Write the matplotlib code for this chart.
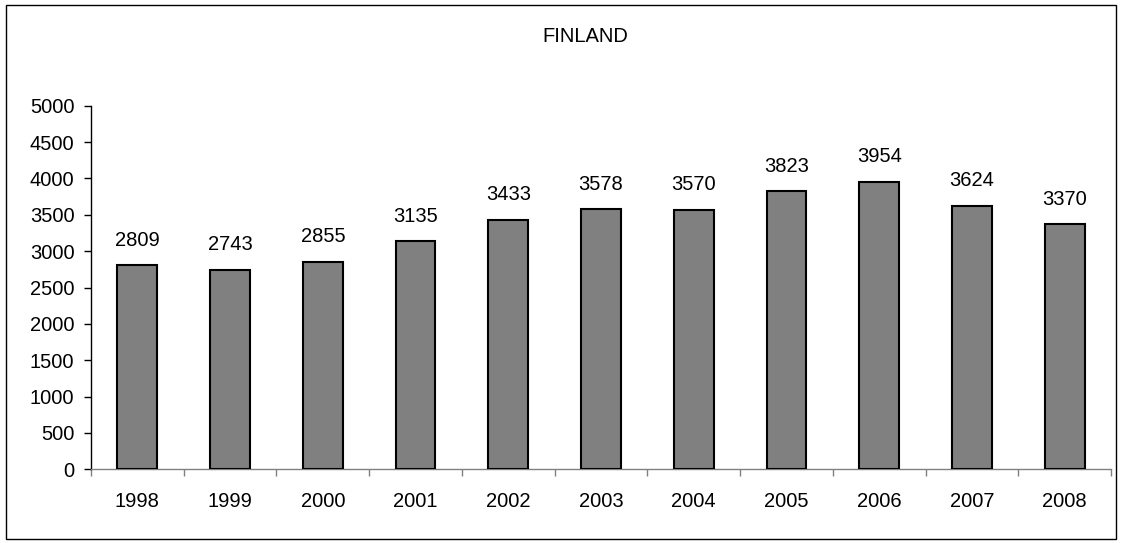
import matplotlib
matplotlib.use("Agg")
import matplotlib.pyplot as plt
from matplotlib.patches import Rectangle
import numpy as np

years = ["1998", "1999", "2000", "2001", "2002", "2003", "2004", "2005", "2006", "2007", "2008"]
values = [2809, 2743, 2855, 3135, 3433, 3578, 3570, 3823, 3954, 3624, 3370]
title = "FINLAND"

plt.rcParams['font.family'] = ['Liberation Sans', 'DejaVu Sans']
FS = 14.5

fig = plt.figure(figsize=(11.23, 5.43), dpi=100)
ax = fig.add_axes([91/1123, (543-469.3)/543, (1111-91)/1123, (469.3-105.7)/543])

x = np.arange(len(years))
bars = ax.bar(x, values, width=0.43, color="#808080", edgecolor="black", linewidth=1.5, zorder=3)
for xi, v in zip(x, values):
    ax.annotate(str(v), (xi, v), xytext=(0, 18), textcoords="offset points",
                ha="center", va="center", fontsize=FS)

ax.set_xlim(-0.5, len(years) - 0.5)
ax.set_ylim(0, 5000)
ax.set_yticks(np.arange(0, 5001, 500))
ax.set_xticks(x)
ax.set_xticklabels(years)
ax.set_xticks(np.arange(-0.5, len(years), 1.0), minor=True)
ax.tick_params(axis="x", which="major", length=0, pad=16, labelsize=FS)
ax.tick_params(axis="x", which="minor", length=5, width=1, color="#808080", direction="out")
ax.tick_params(axis="y", length=5, width=1, pad=7, labelsize=FS, direction="out")

for s in ["top", "right"]:
    ax.spines[s].set_visible(False)
ax.spines["left"].set_color("black")
ax.spines["left"].set_linewidth(1)
ax.spines["bottom"].set_color("#808080")
ax.spines["bottom"].set_linewidth(1)

fig.text(585/1123, 1 - 36/543, title, ha="center", va="center", fontsize=FS)

fig.patches.append(Rectangle((6/1123, 1 - 539/543), (1116-6)/1123, (539-5)/543,
                             transform=fig.transFigure, fill=False, edgecolor="black", linewidth=1))

fig.savefig("out.png", dpi=100)
